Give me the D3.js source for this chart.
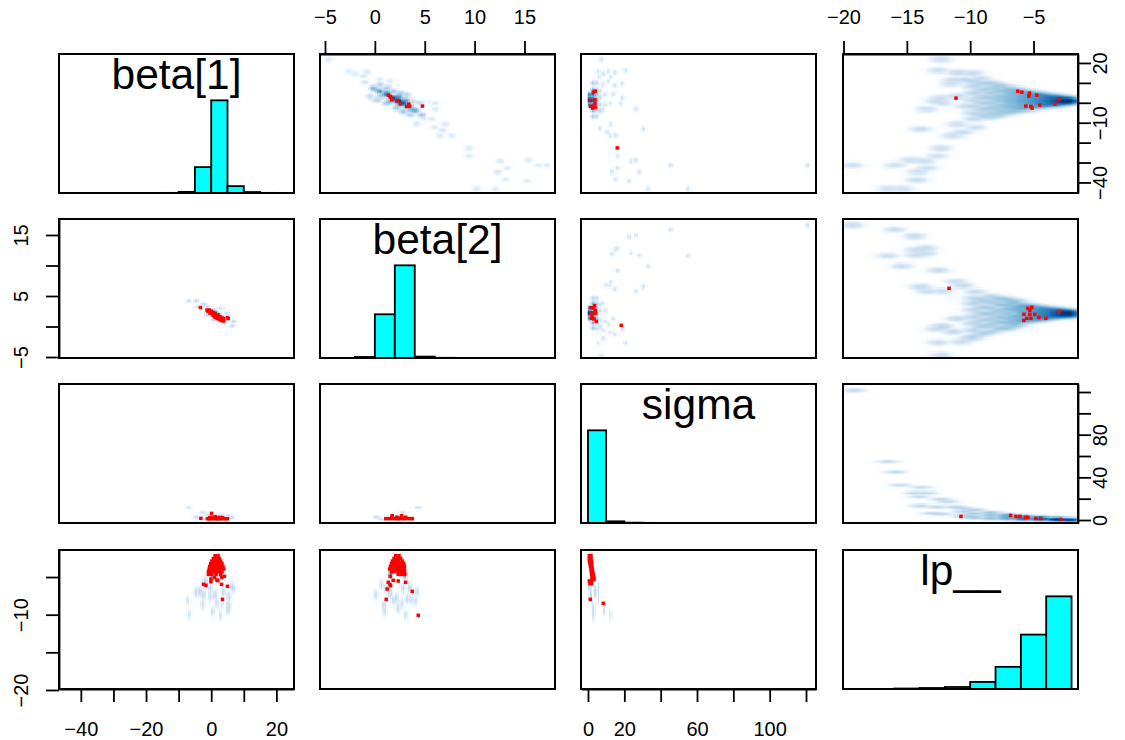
<!DOCTYPE html>
<html>
<head>
<meta charset="utf-8">
<script src="https://cdn.jsdelivr.net/npm/d3@7"></script>
<style>
  html, body { margin: 0; background: #fff; }
  svg { display: block; }
</style>
</head>
<body>
<div id="chart"></div>
<script>
// variable names, in panel order
const varNames = ["beta1", "beta2", "sigma", "lp"];
const varLabels = ["beta[1]", "beta[2]", "sigma", "lp__"];

// data ranges of every variable (both axes)
const xDomains = { beta1: [-46.7, 25.4], beta2: [-5.5, 18.06], sigma: [-3.85, 125.5], lp: [-20.04, -1.49] };
const yDomains = { beta1: [-45.3, 24.5], beta2: [-5.16, 17.62], sigma: [-2.8, 127.5], lp: [-19.87, -1.41] };

// tick positions and which of them get a label
const beta1Ticks = [-40, -30, -20, -10, 0, 10, 20];
const beta1LabelsX = [-40, -20, 0, 20];
const beta1RightTicks = [-40, -30, -20, -10, 0, 10, 20];
const beta1LabelsY = [-40, -10, 20];
const beta2TopTicks = [-5, 0, 5, 10, 15];
const beta2LeftTicks = [-5, 0, 5, 10, 15];
const beta2LabelsY = [-5, 5, 15];
const sigmaBottomTicks = [0, 20, 40, 60, 80, 100, 120];
const sigmaLabelsX = [0, 20, 60, 100];
const sigmaRightTicks = [0, 20, 40, 60, 80, 100, 120];
const sigmaLabelsY = [0, 40, 80];
const lpTopTicks = [-20, -15, -10, -5];
const lpLeftTicks = [-20, -15, -10, -5];
const lpLabelsY = [-20, -10];

// histograms on the diagonal
const beta1Edges = [-15, -10, -5, 0, 5, 10, 15, 20];
const beta1Counts = [4, 35, 810, 2900, 215, 30, 4];
const beta2Edges = [-2, 0, 2, 4, 6, 8];
const beta2Counts = [30, 1250, 2650, 40, 6];
const sigmaEdges = [0, 10, 20, 30, 40];
const sigmaCounts = [3900, 70, 15, 5];
const lpEdges = [-16, -14, -12, -10, -8, -6, -4, -2];
const lpCounts = [12, 25, 50, 175, 550, 1350, 2300];

// density blobs: [x, y, weight]
const lpBeta1Blobs = [
  [-19.3,-31.3,1],[-15.95,-31.3,1],[-14.7,-28.8,1],[-13.6,-29.3,1],[-13.4,-32.8,1],[-14.1,-34.8,1],
  [-14.2,-38.8,1.5],[-16.5,-43.2,1],[-15.3,-43.2,1],[-12.6,-26.8,1],[-12.3,-22.8,1],[-11.4,-16.5,1],
  [-10.6,-14.8,1.5],[-13.9,-13.2,1.5],[-11,-10.8,1],[-9.6,-12.3,1],[-13.4,-3.2,1],[-12.2,-0.2,1],
  [-12.7,1,1],[-12.5,16.2,1],[-12.3,21.8,1],[-11,15.2,1.5],[-9.8,14.8,1.5],[-10.4,11.5,2],[-11.5,9.5,1],
  [-11,3.2,1.5],[-12.3,2.3,1],[-10.4,-1.8,1],[-11.3,11.5,1.5],[-9.2,12.3,1.5],
  [-9.7,10.7,3],[-9.7,8.2,3],[-9.7,4.8,4],[-9.7,1.5,3],[-9.7,-1.8,3],[-9.7,-5.2,3],[-9.7,-8.2,2],
  [-9.05,9.5,4],[-9.05,6.5,4],[-9.05,3,4],[-9.05,0,4],[-9.05,-3.5,4],[-9.05,-6.5,4],
  [-8.4,9.8,4],[-8.4,7.3,5],[-8.4,4.8,6],[-8.4,2.3,5],[-8.4,-0.2,5],[-8.4,-2.7,6],[-8.4,-5.2,5],[-8.4,-7.3,3],
  [-7.75,8.5,8],[-7.75,6,8],[-7.75,3.2,8],[-7.75,1.2,8],[-7.75,-1.5,8],[-7.75,-3.8,8],[-7.75,-6,6],
  [-7.1,7.3,10],[-7.1,5.7,10],[-7.1,4,10],[-7.1,2.3,10],[-7.1,0.7,10],[-7.1,-1,10],[-7.1,-2.7,10],[-7.1,-4.8,8],
  [-6.45,6.5,16],[-6.45,4.8,16],[-6.45,3,16],[-6.45,1.4,16],[-6.45,-0.2,16],[-6.45,-2,16],[-6.45,-3.8,14],
  [-5.8,5.7,22],[-5.8,4.5,22],[-5.8,3.2,22],[-5.8,2,22],[-5.8,0.8,22],[-5.8,-0.3,22],[-5.8,-1.8,22],[-5.8,-3.2,18],
  [-5.1,4.8,35],[-5.1,3.6,35],[-5.1,2.5,35],[-5.1,1.4,35],[-5.1,0.3,35],[-5.1,-0.8,35],[-5.1,-2.4,30],
  [-4.45,4,50],[-4.45,3.2,50],[-4.45,2,50],[-4.45,1,50],[-4.45,0.2,50],[-4.45,-1,50],[-4.45,-1.8,45],
  [-3.8,3.2,90],[-3.8,2.3,90],[-3.8,1.4,90],[-3.8,0.6,90],[-3.8,-0.3,90],[-3.8,-1.2,90],
  [-3.15,2.7,130],[-3.15,1.8,140],[-3.15,1,140],[-3.15,0.2,140],[-3.15,-0.7,130],
  [-2.6,2,220],[-2.6,1.3,220],[-2.6,0.7,220],[-2.6,0,220],
  [-2.1,1.5,280],[-2.1,1,320],[-2.1,0.5,280]
];
const lpBeta2Blobs = [
  [-19.3,16.6,1],[-15.95,15.9,1],[-14.4,14.8,1.5],[-13.5,12.8,1.5],[-14.3,12.5,1],[-13.5,12,1],[-14.3,11.7,1],
  [-16.5,11.6,1],[-15.4,9.9,1],[-12.5,9.2,1.5],[-11.1,7.4,1],[-10.6,6.7,1.5],[-13.9,6.5,1.5],[-13.4,5.8,1],
  [-12.2,5.8,1],[-9.6,5.7,1.5],[-12.3,-4.7,1],[-12.5,-2.6,1],[-10.75,-2.5,1],[-10,-1.9,1.5],[-12.2,0,2],
  [-12.7,-0.4,1],[-11,1.3,2],[-11.3,-0.85,2],
  [-9.7,4.6,2],[-9.7,3.8,3],[-9.7,2.7,3],[-9.7,1.6,3],[-9.7,0.5,3],[-9.7,-0.6,3],[-9.7,-1.7,2],
  [-9.05,4.3,4],[-9.05,3.2,4],[-9.05,2.1,4],[-9.05,1,4],[-9.05,0,4],[-9.05,-1.2,4],
  [-8.4,4.9,3],[-8.4,4,5],[-8.4,3,5],[-8.4,2.1,5],[-8.4,1.2,5],[-8.4,0.25,5],[-8.4,-0.85,4],
  [-7.75,4.5,7],[-7.75,3.6,7],[-7.75,2.5,7],[-7.75,1.6,7],[-7.75,0.7,7],[-7.75,-0.3,7],
  [-7.1,4.35,9],[-7.1,3.6,10],[-7.1,2.9,10],[-7.1,2.1,10],[-7.1,1.35,10],[-7.1,0.6,10],[-7.1,-0.2,9],
  [-6.45,4,16],[-6.45,3.2,16],[-6.45,2.6,16],[-6.45,1.7,16],[-6.45,1,16],[-6.45,0.3,16],
  [-5.8,3.5,25],[-5.8,3,25],[-5.8,2.4,25],[-5.8,1.9,25],[-5.8,1.35,25],[-5.8,0.8,25],
  [-5.1,3.3,40],[-5.1,2.7,40],[-5.1,2.2,40],[-5.1,1.6,40],[-5.1,1.05,40],
  [-4.45,3,65],[-4.45,2.55,65],[-4.45,2.1,65],[-4.45,1.7,65],[-4.45,1.25,65],
  [-3.8,2.8,100],[-3.8,2.35,100],[-3.8,1.9,100],[-3.8,1.5,100],
  [-3.15,2.65,150],[-3.15,2.3,160],[-3.15,2,160],[-3.15,1.7,150],
  [-2.6,2.45,240],[-2.6,2.15,240],[-2.6,1.85,240],
  [-2.1,2.3,300],[-2.1,2.1,340],[-2.1,1.9,300]
];
const lpSigmaBlobs = [
  [-19.15,121.5,1.5],[-16.5,54.5,1.5],[-15.9,45,1.5],[-15.5,32.7,1.5],[-13.9,30.5,1.5],[-14.4,25.5,1.5],[-13.4,25.5,1.5],
  [-14,21.8,1.5],[-12.3,19.3,2],[-11.8,17,2],[-13.9,13.4,2],[-12.6,12.4,2],[-11.1,12.4,3],[-12.3,5.3,2.5],[-13,6,1.5],
  [-10.5,10.9,3],[-10.5,7.7,4],[-10.5,3.7,4],
  [-9.7,9.3,5],[-9.7,5.6,7],[-9.7,2.5,8],
  [-8.4,6.8,10],[-8.4,4.3,14],[-8.4,1.8,14],
  [-7.1,4.6,22],[-7.1,3.1,35],[-7.1,1.5,35],
  [-5.8,3.1,70],[-5.8,1.8,110],[-5.8,0.9,90],
  [-4.45,1.8,220],[-4.45,0.9,240],
  [-3.15,0.9,500],[-3.15,0.6,500],
  [-2.1,0.3,1000]
];
const beta2Beta1Blobs = [
  [-4.66,21.8,1],[-2.66,15.8,1],[-2,14.5,1],[-1.15,13.5,1.5],[-0.8,15.5,1],[0.5,11.8,1],[1.5,10.7,1],[-1,10.2,1.5],[1.36,8.2,1],
  [6.04,-0.17,1],[6.04,-3.2,1],[7.04,-10.8,1],[5.97,-12.2,1],[6.8,-13.8,1.5],[6.5,-16.5,1],[7.7,-16.5,1],[9.45,-22.8,1],
  [9.45,-26.8,1],[12.56,-29.3,1],[13.3,-32.8,1],[12.3,-34.8,1.5],[15.4,-28.8,1],[16.4,-31.3,1],[17.24,-31.3,1],[13.1,-38.5,1],
  [15.24,-39.3,1],[10.2,-43.2,1],[12.06,-43.2,1],[4.2,-10.5,1.5],[5.7,-8.2,1],[4.9,-7.7,1.5],
  [-0.15,7.3,30],[0.52,5.7,60],[1.19,4,120],[1.86,2.3,260],[2.36,1,500],[2.86,-0.2,300],[3.36,-1.8,140],[4.03,-3.8,50],[4.7,-6,15],
  [0.52,9,8],[1.19,7.3,12],[1.86,5.7,15],[2.53,4.8,12],[3.2,4,8],[-0.48,3.2,5],[0.19,1.5,8],[1.19,-0.2,12],[2.2,-2.7,15],
  [2.86,-4.3,15],[3.53,-6,8],[4.53,-0.17,5],[3.86,0.67,5],
  [1.2,5.2,40],[2.4,3,60],[3.1,1.3,60],[1.5,0.8,30],[2.5,-1,40],[0.6,3.4,15],[3.6,-3.5,25],[0.2,6.5,15]
];
const sigmaBeta1Blobs = [
  [7.5,21.8,1],[5.7,15.7,1],[8.4,14.5,1],[11.2,15.7,1],[14.8,15.2,1],[20.7,16.2,1],[12.6,13.2,1],[6,13.2,1],[11.2,10.7,1],
  [14.8,8.7,1],[18.9,9.5,1],[13.9,4.2,1],[18.9,2.3,1],[18,-0.3,1],[12.1,-0.2,1],[26.4,-3.2,1],[30.4,-13.2,1.5],[12.4,-10.8,1],
  [6.6,-12.7,1],[10.3,-14.8,1],[12.1,-16.5,1],[15,-16.3,1],[16.1,-26.8,1],[23.8,-29.3,1],[26.4,-28.8,1],[16.1,-32.8,1],
  [13.2,-34.7,1],[28.2,-34.8,1],[45.4,-31.3,1.5],[15,-38.5,1],[22.5,-39.3,1],[33.1,-43.2,1],[55.1,-43.2,1],[120.7,-31.3,1.5],
  [1.1,1.5,500],[1.1,4,90],[1.1,-1,90],[2.9,1.5,220],[2.9,4,90],[2.9,-1,90],[2.9,6.5,25],[2.9,-3.5,25],[2.9,9.8,6],[2.9,-6.8,6],
  [4.8,1.5,20],[4.8,4,10],[4.8,-1,10],[4.8,6.5,5],[4.8,-3.5,5],[4.8,-6.8,2],[4.8,9.8,2],
  [6.6,3,3],[6.6,-1,3],[6.6,6,2],[6.6,-4,2],[9.3,4,1],[9.3,-1,1],[8,-3.5,1],[8,9,1]
];
const sigmaBeta2Blobs = [
  [7.5,-4.7,1],[20.7,-2.65,1],[5.7,-2.6,1],[8.4,-1.9,1],[14.8,-1.3,1],[12.1,-0.95,1],[18.9,-0.4,1],[11.2,0.35,1],[13.9,1.25,1],
  [30.4,6.5,1.5],[26.4,5.8,1],[14.8,6.15,1],[12.1,6.7,1],[12.4,7.35,1],[9.9,6.8,1],[16.1,9.15,1.5],[33.1,9.9,1],[55.1,11.6,1],
  [28.2,11.7,1],[23.8,12.05,1],[13.2,11.9,1],[15,12.6,1],[16.1,12.8,1],[22.5,14.7,1],[26.4,14.9,1],[45.4,15.9,1.5],[120.7,16.6,1.5],
  [1.1,2.2,500],[1.1,3,90],[1.1,1.4,90],[2.9,2.2,220],[2.9,3,90],[2.9,1.4,90],[2.9,3.8,25],[2.9,0.6,25],[2.9,4.6,5],[2.9,-0.2,8],
  [4.8,2.2,20],[4.8,3,10],[4.8,1.4,10],[4.8,3.8,5],[4.8,0.6,6],[4.8,-0.3,2],[4.8,4.6,2],
  [6.6,2.5,3],[6.6,1,3],[6.6,3.6,2],[6.6,0,2],[9.3,2.5,1],[9.3,0.8,1],[8,3.8,1],[8,-0.5,1]
];

// same for the lower triangle, most of it hidden under the red points
const beta1Beta2Blobs = [
  [-6.9,4.2,1],[-4.6,4.2,1],[-2.3,3.7,2],[-4.3,3.25,1],[-1.3,1.9,1.5],[0.8,1.1,2],[2.8,1.2,2],[4.8,2.15,1],[6.9,0.8,2],[6.4,0.1,1.5],
  [2.8,3,1],[0.8,2.7,3],[-1.3,3.25,2],[1,2.2,400],[3,1.6,300]
];
const beta1SigmaBlobs = [
  [-6.93,11.85,1],[-2.55,6.9,1.5],[-4.7,2.5,1],[3.05,4.7,1.5],[6.3,2.2,2],[5.3,3.8,1],[-1.3,4.7,1],[2,1.5,500]
];
const beta2SigmaBlobs = [
  [0.17,2.5,1],[0.67,0.95,1.5],[2.78,6.9,1],[4.35,11.85,1],[2.4,1.5,500]
];
const beta1LpBlobs = [
  [-7.24,-8.13,1],[-6.83,-10.03,1],[-2.55,-8.62,1],[0.5,-9.59,1],[2.85,-10.03,1],[5.3,-8.71,1.5],[5.1,-9.37,1.5],[-4.6,-7.03,2],
  [-3.37,-6.94,2.5],[-1.84,-5.62,3],[-0.3,-6.5,3],[1.2,-7.38,2],[3.77,-6.94,2],[6.3,-6.28,2],[6.8,-6.5,2],[-2.35,-7.38,2],
  [1.73,-8.49,1],[3.26,-8.49,1],[-0.3,-7.6,2],[5.3,-7.6,2],[1.5,-3.4,500],[0.5,-4.6,60],[3,-4.6,60]
];
const beta2LpBlobs = [
  [0.67,-6.06,2],[0.1,-7.38,1],[0.94,-8.71,1.5],[1,-9.59,1],[2.34,-9.15,1],[3.11,-10.03,1],[4.25,-6.94,1],[4.1,-8.18,1],
  [3.28,-7.91,1.5],[2.68,-8.49,1],[2.18,-7.82,2],[2.84,-6.5,3],[3.51,-6.5,2.5],[1.51,-7.16,2.5],[1.84,-8.04,2],[1.17,-6.5,3],
  [3.68,-8.04,1],[2.3,-3.4,500],[1.6,-4.6,60],[3,-4.6,60]
];
const sigmaLpBlobs = [
  [1.1,-6.06,8],[3.8,-6.94,3],[5.7,-7.82,2],[3,-9.15,1.5],[3,-10.03,1],[8.8,-9.37,1],[12.1,-10.03,1],[5.7,-6.5,2],[1.5,-7.5,3],[1.5,-3,500]
];

// divergent transitions, upper triangle
const beta2Beta1Red = [[1.36,3.83],[1.52,3.2],[1.59,2.83],[1.69,1.5],[2.26,1.17],[2.56,-0.5],[3.2,-1.83],[3.4,-0.67],[3.46,-1.67],[4.77,-1.67]];
const sigmaBeta1Red = [[4,5.83],[2.9,5.33],[1.28,1.17],[3.84,1.5],[3.84,-0.17],[1.46,-1.83],[2.9,-1.83],[4,-2.17],[2.56,-2.67],[16.1,-22.67]];
const lpBeta1Red = [[-11.12,2.33],[-6.24,5.83],[-5.92,5.33],[-5.32,4.83],[-5.37,3.33],[-4.74,3.83],[-3.01,1.83],[-3.32,-0.67],[-4.5,-1.17],[-5.61,-1.67],[-5.21,-1.83],[-5.11,-2.67]];
const sigmaBeta2Red = [[3.66,3.42],[1.64,3.09],[2.93,3.09],[4,2.6],[1.46,2.27],[4,2.16],[2.2,1.78],[2,1.34],[3.3,1.23],[4.57,0.85],[18.3,0.19]];
const lpBeta2Red = [[-11.67,6.26],[-5.13,3.14],[-5.45,2.98],[-5.29,2.65],[-5.76,2],[-5.29,2],[-4.9,2],[-4.58,1.5],[-4.03,1.34],[-3.01,2.43],[-5.21,1.34],[-5.53,1.34],[-5.76,1.01]];
const lpSigmaRed = [[-10.73,3.4],[-6.81,4.3],[-6.39,3.4],[-6.08,3.4],[-5.61,2.45],[-5.45,2.45],[-4.82,1.5],[-4.43,1.5],[-2.85,0.58]];

// divergent transitions, lower triangle
const beta1Beta2Red = [
  [-3.3,3.1],[-1.3,2.7],[-1,2.5],[-0.6,2.7],[-0.4,2.2],[0,2.5],[0.2,2.1],[0.6,2.3],[0.6,1.8],[1,2.1],[1,1.6],[1.4,1.9],[1.4,1.5],
  [1.8,1.7],[1.8,1.3],[2.2,1.9],[2.2,1.4],[2.6,1.6],[2.6,1.2],[3,1.4],[3,1],[3.5,1.2],[3.8,0.9],[3.8,1.3],[5,1.45],[5.2,1.3]
];
const beta1SigmaRed = [
  [-3.16,1.57],[0.1,6.2],[1.2,3.1],[-1.2,1.2],[-0.5,1.2],[0.3,1.2],[1.1,1.2],[1.9,1.2],[2.7,1.2],[3.5,1.2],[4.3,1.2],[5,1.2],
  [-0.5,2.3],[0.3,2.3],[1.1,2.3],[1.9,2.3],[2.7,2.3],[3.5,2.3]
];
const beta2SigmaRed = [
  [1.74,4.06],[2.68,4.06],[1.1,1.3],[1.4,1.3],[1.7,1.3],[2,1.3],[2.3,1.3],[2.6,1.3],[2.9,1.3],[3.2,1.3],[3.5,1.3],[3.75,1.3],
  [1.7,2.6],[2.2,2.6],[2.7,2.6],[3.1,2.6]
];
const beta1LpRed = [
  [1.2,-2.17],[2.1,-2.17],[0.65,-2.53],[1.55,-2.53],[2.45,-2.53],[0.15,-2.88],[1.05,-2.88],[1.95,-2.88],[2.9,-2.88],
  [-0.15,-3.23],[0.75,-3.23],[1.65,-3.23],[2.55,-3.23],[3.3,-3.23],[-0.45,-3.59],[0.45,-3.59],[1.35,-3.59],[2.25,-3.59],[3.15,-3.59],[3.6,-3.59],
  [-0.65,-3.94],[0.25,-3.94],[1.15,-3.94],[2.05,-3.94],[2.95,-3.94],[3.85,-3.94],[-0.85,-4.29],[0.05,-4.29],[0.95,-4.29],[1.85,-4.29],[2.75,-4.29],[3.3,-4.29],
  [-0.85,-4.65],[0,-4.65],[1.5,-4.65],[2.9,-4.65],
  [4.07,-4.91],[3.26,-5.04],[1.02,-5.04],[-0.1,-5.26],[-0.1,-5.62],[1.73,-5.4],[2.04,-5.48],[-2.35,-5.97],[-1.63,-6.1],[3.16,-5.97],[4.99,-6.23],[3.46,-7.96]
];
const beta2LpRed = [
  [2.09,-2.17],[2.42,-2.17],[1.92,-2.53],[2.25,-2.53],[2.59,-2.53],[1.76,-2.88],[2.09,-2.88],[2.42,-2.88],[2.76,-2.88],
  [1.66,-3.23],[1.99,-3.23],[2.32,-3.23],[2.65,-3.23],[2.9,-3.23],[1.56,-3.59],[1.89,-3.59],[2.22,-3.59],[2.55,-3.59],[2.88,-3.59],[2.96,-3.59],
  [1.49,-3.94],[1.82,-3.94],[2.15,-3.94],[2.48,-3.94],[2.81,-3.94],[2.96,-3.94],[1.66,-4.29],[1.99,-4.29],[2.32,-4.29],[2.65,-4.29],[2.96,-4.29],
  [2.34,-4.65],[2.67,-4.65],[3,-4.65],
  [1.54,-4.91],[1.84,-5.44],[1.34,-5.7],[1.51,-5.97],[1.57,-6.15],[1.24,-6.59],[2.34,-5.53],[3.08,-5.7],[3.75,-6.9],[1.14,-7.96],[4.35,-10.08]
];
const sigmaLpRed = [
  [0.73,-2.17],[1.64,-2.17],[0.73,-2.53],[1.64,-2.53],[0.73,-2.88],[1.83,-2.88],[1.1,-3.23],[2,-3.23],[1.46,-3.59],[2.2,-3.59],
  [1.64,-3.94],[2.38,-3.94],[1.83,-4.29],[2.56,-4.29],[2,-4.65],[2.93,-4.65],[2.2,-5],[3.3,-5],[2.2,-5.35],[3.3,-5.35],
  [0.73,-5.53],[1.64,-5.53],[1.1,-5.88],[2,-5.88],[1.28,-7.96],[8.4,-8.49]
];

const width = 1125, height = 740;
const panelW = 235, panelH = 139;
const panelLeft = [59, 320, 581, 843];
const panelTop = [54, 219, 384, 550];
const nbin = 128;
const redSize = 3.5;

const svg = d3.select("#chart").append("svg")
  .attr("width", width)
  .attr("height", height)
  .style("font-family", "'Liberation Sans', Arial, sans-serif");

// white + blues9, the smoothScatter default
const blues = ["#FFFFFF", "#F7FBFF", "#DEEBF7", "#C6DBEF", "#9ECAE1", "#6BAED6", "#4292C6", "#2171B5", "#08519C", "#08306B"];
const densityColor = d3.scaleLinear()
  .domain(blues.map((c, i) => i / (blues.length - 1)))
  .range(blues);

function xScale(name, col) {
  return d3.scaleLinear().domain(xDomains[name]).range([panelLeft[col], panelLeft[col] + panelW]);
}
function yScale(name, row) {
  return d3.scaleLinear().domain(yDomains[name]).range([panelTop[row] + panelH, panelTop[row]]);
}

// kernel sizes are in pixels, they differ per panel because of the bandwidths
// flat flattens the weights so the mid range of the fans stays visible
const scatterPanels = [
  { col: 1, row: 0, blobs: beta2Beta1Blobs, red: beta2Beta1Red, sx: 1.9, sy: 1.2, flat: 0.95 },
  { col: 2, row: 0, blobs: sigmaBeta1Blobs, red: sigmaBeta1Red, sx: 1, sy: 1.2, flat: 0.9 },
  { col: 3, row: 0, blobs: lpBeta1Blobs, red: lpBeta1Red, sx: 5, sy: 1.5, flat: 0.6 },
  { col: 2, row: 1, blobs: sigmaBeta2Blobs, red: sigmaBeta2Red, sx: 1, sy: 1.1, flat: 0.9 },
  { col: 3, row: 1, blobs: lpBeta2Blobs, red: lpBeta2Red, sx: 5, sy: 1.5, flat: 0.6 },
  { col: 3, row: 2, blobs: lpSigmaBlobs, red: lpSigmaRed, sx: 5, sy: 0.9, flat: 0.65 },
  { col: 0, row: 1, blobs: beta1Beta2Blobs, red: beta1Beta2Red, sx: 1.3, sy: 0.8, flat: 0.8 },
  { col: 0, row: 2, blobs: beta1SigmaBlobs, red: beta1SigmaRed, sx: 1.5, sy: 0.7, flat: 0.8 },
  { col: 1, row: 2, blobs: beta2SigmaBlobs, red: beta2SigmaRed, sx: 1.5, sy: 0.7, flat: 0.8 },
  { col: 0, row: 3, blobs: beta1LpBlobs, red: beta1LpRed, sx: 1, sy: 2.3, flat: 0.8 },
  { col: 1, row: 3, blobs: beta2LpBlobs, red: beta2LpRed, sx: 1, sy: 2.3, flat: 0.8 },
  { col: 2, row: 3, blobs: sigmaLpBlobs, red: sigmaLpRed, sx: 0.6, sy: 2.8, flat: 0.8 }
];

scatterPanels.forEach(p => {
  const x = xScale(varNames[p.col], p.col);
  const y = yScale(varNames[p.row], p.row);
  const cellW = panelW / nbin, cellH = panelH / nbin;
  const left = panelLeft[p.col], top = panelTop[p.row];

  // sum the kernels on the grid
  const cells = [];
  d3.range(nbin).forEach(j => {
    d3.range(nbin).forEach(i => {
      const cx = left + (i + 0.5) * cellW, cy = top + (j + 0.5) * cellH;
      let dens = 0;
      p.blobs.forEach(b => {
        const dx = (cx - x(b[0])) / p.sx, dy = (cy - y(b[1])) / p.sy;
        dens += Math.pow(b[2], p.flat) * Math.exp(-0.5 * (dx * dx + dy * dy));
      });
      cells.push({ i, j, dens });
    });
  });
  const maxDens = d3.max(cells, d => d.dens);
  cells.forEach(d => d.level = Math.pow(d.dens / maxDens, 0.25));

  const g = svg.append("g");
  g.append("g")
    .attr("shape-rendering", "crispEdges")
    .selectAll("rect")
    .data(cells.filter(d => d.level > 0.03))
    .join("rect")
    .attr("x", d => left + d.i * cellW)
    .attr("y", d => top + d.j * cellH)
    .attr("width", cellW + 0.5)
    .attr("height", cellH + 0.5)
    .attr("fill", d => densityColor(d.level));

  g.append("g")
    .selectAll("rect")
    .data(p.red)
    .join("rect")
    .attr("x", d => x(d[0]) - redSize / 2)
    .attr("y", d => y(d[1]) - redSize / 2)
    .attr("width", redSize)
    .attr("height", redSize)
    .attr("fill", "#ff0000");
});

// histograms on the diagonal
const histPanels = [
  { edges: beta1Edges, counts: beta1Counts },
  { edges: beta2Edges, counts: beta2Counts },
  { edges: sigmaEdges, counts: sigmaCounts },
  { edges: lpEdges, counts: lpCounts }
];
histPanels.forEach((h, k) => {
  const x = xScale(varNames[k], k);
  const y = d3.scaleLinear()
    .domain([0, 1.5 * d3.max(h.counts)])
    .range([panelTop[k] + panelH, panelTop[k]]);
  svg.append("g")
    .selectAll("rect")
    .data(d3.pairs(h.edges).map((e, i) => ({ x0: e[0], x1: e[1], n: h.counts[i] })))
    .join("rect")
    .attr("x", d => x(d.x0))
    .attr("y", d => y(d.n))
    .attr("width", d => x(d.x1) - x(d.x0))
    .attr("height", d => y(0) - y(d.n))
    .attr("fill", "#00ffff")
    .attr("stroke", "black")
    .attr("stroke-width", 1.8);
});

// panel frames
panelTop.forEach(t => {
  panelLeft.forEach(l => {
    svg.append("rect")
      .attr("x", l).attr("y", t)
      .attr("width", panelW).attr("height", panelH)
      .attr("fill", "none")
      .attr("stroke", "black")
      .attr("stroke-width", 2);
  });
});

// variable names
const labelBaseline = 35;
varLabels.forEach((lab, k) => {
  svg.append("text")
    .attr("x", panelLeft[k] + panelW / 2)
    .attr("y", panelTop[k] + labelBaseline)
    .attr("text-anchor", "middle")
    .style("font-size", "42.5px")
    .style("fill", "black")
    .text(lab);
});

// axes
const tickFmt = labels => d => labels.includes(d) ? d3.format("d")(d) : "";

function drawAxis(axis, tx, ty, labelTransform) {
  const g = svg.append("g")
    .attr("transform", `translate(${tx},${ty})`)
    .call(axis);
  g.selectAll(".tick line").attr("stroke", "black").attr("stroke-width", 1.8);
  g.select(".domain").attr("stroke", "black").attr("stroke-width", 1.8);
  g.selectAll("text")
    .attr("x", 0).attr("y", 0).attr("dy", 0)
    .attr("text-anchor", "middle")
    .attr("transform", labelTransform)
    .style("font-size", "20px")
    .style("font-family", "'Liberation Sans', Arial, sans-serif")
    .style("fill", "black");
}

const tickLen = 13;
drawAxis(d3.axisBottom(xScale("beta1", 0)).tickValues(beta1Ticks).tickSize(tickLen).tickSizeOuter(0).tickFormat(tickFmt(beta1LabelsX)),
  0, panelTop[3] + panelH, "translate(0,47)");
drawAxis(d3.axisBottom(xScale("sigma", 2)).tickValues(sigmaBottomTicks).tickSize(tickLen).tickSizeOuter(0).tickFormat(tickFmt(sigmaLabelsX)),
  0, panelTop[3] + panelH, "translate(0,47)");
drawAxis(d3.axisTop(xScale("beta2", 1)).tickValues(beta2TopTicks).tickSize(tickLen).tickSizeOuter(0).tickFormat(tickFmt(beta2TopTicks)),
  0, panelTop[0], "translate(0,-30)");
drawAxis(d3.axisTop(xScale("lp", 3)).tickValues(lpTopTicks).tickSize(tickLen).tickSizeOuter(0).tickFormat(tickFmt(lpTopTicks)),
  0, panelTop[0], "translate(0,-30)");
drawAxis(d3.axisLeft(yScale("beta2", 1)).tickValues(beta2LeftTicks).tickSize(tickLen).tickSizeOuter(0).tickFormat(tickFmt(beta2LabelsY)),
  panelLeft[0], 0, "translate(-31,0) rotate(-90)");
drawAxis(d3.axisLeft(yScale("lp", 3)).tickValues(lpLeftTicks).tickSize(tickLen).tickSizeOuter(0).tickFormat(tickFmt(lpLabelsY)),
  panelLeft[0], 0, "translate(-31,0) rotate(-90)");
drawAxis(d3.axisRight(yScale("beta1", 0)).tickValues(beta1RightTicks).tickSize(tickLen).tickSizeOuter(0).tickFormat(tickFmt(beta1LabelsY)),
  panelLeft[3] + panelW, 0, "translate(29,0) rotate(-90)");
drawAxis(d3.axisRight(yScale("sigma", 2)).tickValues(sigmaRightTicks).tickSize(tickLen).tickSizeOuter(0).tickFormat(tickFmt(sigmaLabelsY)),
  panelLeft[3] + panelW, 0, "translate(29,0) rotate(-90)");
</script>
</body>
</html>
